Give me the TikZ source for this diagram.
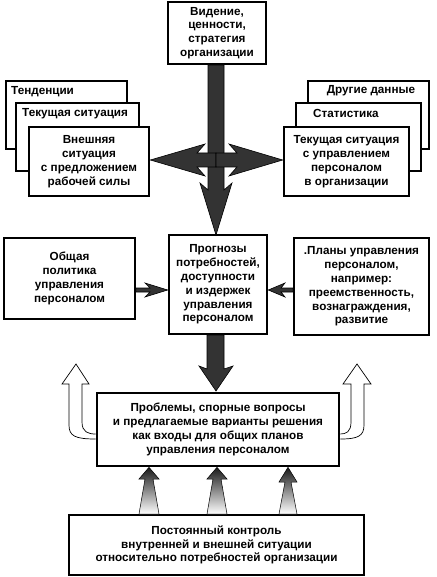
\documentclass[tikz,border=0pt]{standalone}
\usepackage{fontspec}
\setmainfont{Liberation Sans}
\usepackage{tikz}

\begin{document}
\begin{tikzpicture}[x=1pt, y=-1pt,
        box/.style={draw, line width=2.6pt, fill=white, align=center, inner sep=0pt,
                    font=\bfseries\fontsize{11.7}{13.8}\selectfont},
        boxtext/.style={inner sep=0pt, font=\bfseries\fontsize{11.7}{13.8}\selectfont},
        fatarrow/.style={fill=black!80, draw=black, line width=0.6pt, line join=miter},
        hollowarrow/.style={fill=white, draw=black, line width=0.7pt},
        shadearrow/.style={top color=black!90, bottom color=white, draw=black, line width=0.5pt}]
        \useasboundingbox (0,0) rectangle (436,577);

        % Define the top box
        \node[box, minimum width=98, minimum height=62] (vis) at (217,33)
            {Видение,\\ ценности,\\ стратегия\\ организации};

        % Define the left stack
        \node[box, minimum width=121, minimum height=68] (tend) at (66.5,115) {};
        \node[boxtext, anchor=north west] (tendtxt) at (11,86) {Тенденции};
        \node[box, minimum width=123, minimum height=68] (curl) at (77.5,137) {};
        \node[boxtext, anchor=north west] (curltxt) at (22,108) {Текущая ситуация};
        \node[box, minimum width=120, minimum height=69] (ext) at (89,161.5)
            {Внешняя\\ ситуация\\ с предложением\\ рабочей силы};

        % Define the right stack
        \node[box, minimum width=121, minimum height=68] (other) at (368.5,115) {};
        \node[boxtext, anchor=north] (othertxt) at (371,85) {Другие данные};
        \node[box, minimum width=125, minimum height=68] (stat) at (358.5,137) {};
        \node[boxtext, anchor=north west] (stattxt) at (313,109) {Статистика};
        \node[box, minimum width=125, minimum height=69] (hrsit) at (346.5,161.5)
            {Текущая ситуация\\ с управлением\\ персоналом\\ в организации};

        % Define the middle row
        \node[box, minimum width=131, minimum height=81] (gen) at (69.5,278.5)
            {Общая\\ политика\\ управления\\ персоналом};
        \node[box, minimum width=98, minimum height=99] (prog) at (218,284.5)
            {Прогнозы\\ потребностей,\\ доступности\\ и издержек\\ управления\\ персоналом};
        \node[box, minimum width=135, minimum height=97] (plans) at (361.5,286.5)
            {.Планы управления\\ персоналом,\\ например:\\ преемственность,\\ вознаграждения,\\ развитие};

        % Define the lower boxes
        \node[box, minimum width=242, minimum height=73] (prob) at (218,429.5)
            {Проблемы, спорные вопросы\\ и предлагаемые варианты решения\\ как входы для общих планов\\ управления персоналом};
        \node[box, minimum width=295, minimum height=60] (mon) at (216.5,545)
            {Постоянный контроль\\ внутренней и внешней ситуации\\ относительно потребностей организации};

        % Define the big arrows
        \filldraw[fatarrow] (208,65) -- (208,190) -- (200,183) -- (216,235)
            -- (232,183) -- (224,190) -- (224,65) -- cycle;
        \filldraw[fatarrow] (216,153) -- (197,153) -- (205,144) -- (ext.east |- 0,160)
            -- (205,176) -- (197,167) -- (216,167) -- cycle;
        \filldraw[fatarrow] (216,153) -- (237,153) -- (229,144) -- (hrsit.west |- 0,160)
            -- (229,176) -- (237,167) -- (216,167) -- cycle;
        \filldraw[fatarrow] (207,335) -- (207,369) -- (199,366) -- (216,391)
            -- (233,366) -- (224,369) -- (224,335) -- cycle;

        % Define the small arrows
        \filldraw[fatarrow] (gen.east |- 0,288) -- (150,288) -- (145,283) -- (prog.west |- 0,290)
            -- (145,297) -- (150,292) -- (gen.east |- 0,292) -- cycle;
        \filldraw[fatarrow] (plans.west |- 0,288) -- (281,288) -- (285,283) -- (prog.east |- 0,290)
            -- (285,297) -- (281,292) -- (plans.west |- 0,292) -- cycle;

        % Define the hollow arrows
        \filldraw[hollowarrow] (prob.west |- 0,439) .. controls (75,439) and (69,436) .. (69,425)
            -- (69,384) -- (62,384) -- (76,364) -- (89,384) -- (82,384) -- (82,422)
            .. controls (82,432) and (88,434) .. (prob.west |- 0,434);
        \filldraw[hollowarrow] (prob.east |- 0,439) .. controls (358,439) and (364,436) .. (364,425)
            -- (364,384) -- (371,384) -- (357,364) -- (343,384) -- (351,384) -- (351,422)
            .. controls (351,432) and (346,434) .. (prob.east |- 0,434);

        % Define the shaded arrows
        \draw[shadearrow] (139,514) -- (145,479) -- (139,479) -- (149,0 |- prob.south)
            -- (159,479) -- (153,479) -- (159,514) -- cycle;
        \draw[shadearrow] (207,514) -- (213,479) -- (207,479) -- (217,0 |- prob.south)
            -- (227,479) -- (221,479) -- (227,514) -- cycle;
        \draw[shadearrow] (279,514) -- (285,482) -- (279,482) -- (288,0 |- prob.south)
            -- (297,482) -- (291,482) -- (297,514) -- cycle;

    \end{tikzpicture}
\end{document}
